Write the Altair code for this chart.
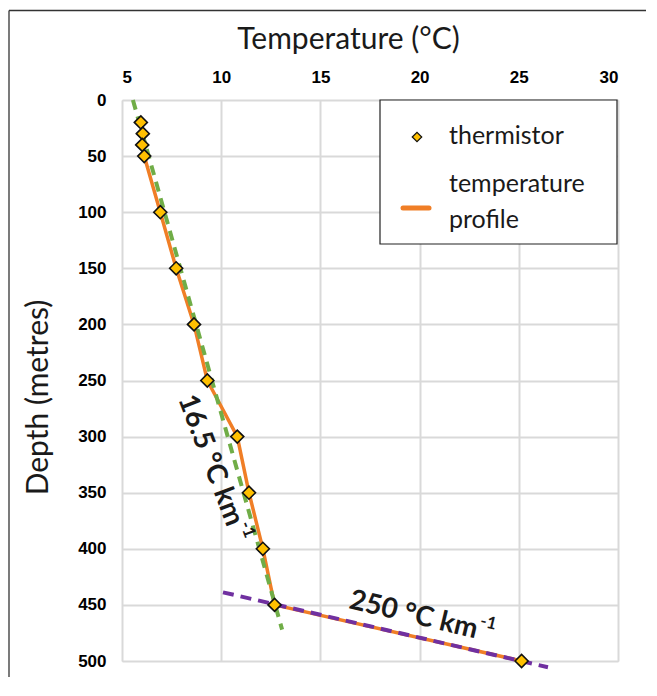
import altair as alt
import pandas as pd

# ---- data ----
depth = [20, 30, 40, 50, 100, 150, 200, 250, 300, 350, 400, 450, 500]
temp = [5.95, 6.05, 6.02, 6.12, 6.93, 7.73, 8.63, 9.30, 10.81, 11.40, 12.10, 12.69, 25.14]

green_temp = [5.55, 13.07]
green_depth = [0, 472]
purple_temp = [10.09, 26.47]
purple_depth = [438.8, 505.6]

x_ticks = [5, 10, 15, 20, 25, 30]
y_ticks = [0, 50, 100, 150, 200, 250, 300, 350, 400, 450, 500]

# annotation: main text ends (right-aligned) at (temp, depth); superscript follows
ann_text = ["16.5 °C km", "250 °C km"]
ann_sup = ["-1", "-1"]
ann_temp = [10.68, 22.90]
ann_depth = [378.5, 473.0]
ann_angle = [69, 13.5]

legend_labels = ["thermistor", "temperature\nprofile"]

TEXT_FONT = "Lato"
ORANGE = "#F07E26"
GOLD = "#FFC000"
GREEN = "#70AD47"
PURPLE = "#7030A0"

W, H = 496, 561
PAD = {"left": 114, "top": 92, "right": 28, "bottom": 16}

profile = pd.DataFrame({"temp": temp, "depth": depth})
green = pd.DataFrame({"temp": green_temp, "depth": green_depth})
purple = pd.DataFrame({"temp": purple_temp, "depth": purple_depth})
one = pd.DataFrame({"a": [0]})

xscale = alt.Scale(domain=[5, 30], nice=False, zero=False)
yscale = alt.Scale(domain=[0, 500], reverse=True, nice=False, zero=False)

xenc = alt.X(
    "temp:Q",
    scale=xscale,
    axis=alt.Axis(
        orient="top", values=x_ticks, ticks=False, domain=False, grid=True,
        gridColor="#D9D9D9", gridWidth=2,
        labelFont="Liberation Sans", labelFontWeight="bold", labelFontSize=17,
        labelColor="#000000", labelPadding=14,
        title="Temperature (°C)", titleFont=TEXT_FONT, titleFontSize=30,
        titleFontWeight="normal", titleColor="#1a1a1a",
        titleX=226, titleY=-52, titleBaseline="alphabetic", titleAlign="center",
    ),
)
yenc = alt.Y(
    "depth:Q",
    scale=yscale,
    axis=alt.Axis(
        orient="left", values=y_ticks, ticks=False, domain=False, grid=True,
        gridColor="#D9D9D9", gridWidth=2,
        labelFont="Liberation Sans", labelFontWeight="bold", labelFontSize=17,
        labelColor="#000000", labelPadding=16,
        title="Depth (metres)", titleFont=TEXT_FONT, titleFontSize=30,
        titleFontWeight="normal", titleColor="#1a1a1a", titleAngle=270,
        titleX=-75, titleY=297, titleBaseline="alphabetic", titleAlign="center",
    ),
)

# outer frame (top and left edges only; the others fall outside the window)
frame_top = alt.Chart(one).mark_rule(color="#333333", strokeWidth=1.3).encode(
    x=alt.value(-113), x2=alt.value(W + PAD["right"]), y=alt.value(-89.5)
)
frame_left = alt.Chart(one).mark_rule(color="#333333", strokeWidth=1.3).encode(
    x=alt.value(-113), y=alt.value(-89.5), y2=alt.value(H + PAD["bottom"])
)

line = alt.Chart(profile).mark_line(color=ORANGE, strokeWidth=3.5).encode(
    x=xenc, y=yenc, order="depth:Q"
)
gline = alt.Chart(green).mark_line(color=GREEN, strokeWidth=4, strokeDash=[10, 7]).encode(
    x=alt.X("temp:Q", scale=xscale), y=alt.Y("depth:Q", scale=yscale), order="depth:Q"
)
pline = alt.Chart(purple).mark_line(color=PURPLE, strokeWidth=4, strokeDash=[11, 7]).encode(
    x=alt.X("temp:Q", scale=xscale), y=alt.Y("depth:Q", scale=yscale), order="depth:Q"
)
pts = alt.Chart(profile).mark_point(
    shape="diamond", filled=True, fill=GOLD, stroke="#111111", strokeWidth=1.6,
    size=170, opacity=1,
).encode(x=alt.X("temp:Q", scale=xscale), y=alt.Y("depth:Q", scale=yscale))

ann_layers = []
for i in range(2):
    d = pd.DataFrame({"t": [ann_temp[i]], "d": [ann_depth[i]], "s": [ann_text[i]], "u": [ann_sup[i]]})
    ann_layers.append(
        alt.Chart(d).mark_text(
            font=TEXT_FONT, fontSize=28, fontWeight="bold", color="#1a1a1a",
            angle=ann_angle[i], align="right", baseline="middle",
        ).encode(x=alt.X("t:Q", scale=xscale), y=alt.Y("d:Q", scale=yscale), text="s:N")
    )
    ann_layers.append(
        alt.Chart(d).mark_text(
            font=TEXT_FONT, fontSize=17, fontWeight="bold", color="#1a1a1a",
            angle=ann_angle[i], align="left", baseline="middle", dx=1, dy=-10,
        ).encode(x=alt.X("t:Q", scale=xscale), y=alt.Y("d:Q", scale=yscale), text="u:N")
    )

# ---- legend ----
lbox = alt.Chart(one).mark_rect(fill="white", stroke="#222222", strokeWidth=1.2).encode(
    x=alt.value(258), x2=alt.value(495), y=alt.value(0), y2=alt.value(144)
)
lsym = alt.Chart(one).mark_point(
    shape="diamond", filled=True, fill=GOLD, stroke="#111111", strokeWidth=1.2, size=90, opacity=1
).encode(x=alt.value(295), y=alt.value(37))
lline = alt.Chart(one).mark_rule(color=ORANGE, strokeWidth=5, strokeCap="round").encode(
    x=alt.value(281), x2=alt.value(307), y=alt.value(108)
)
ltxt1 = alt.Chart(one).mark_text(
    font=TEXT_FONT, fontSize=25, color="#1a1a1a", align="left", baseline="alphabetic",
    text=legend_labels[0],
).encode(x=alt.value(327), y=alt.value(44))
ltxt2 = alt.Chart(one).mark_text(
    font=TEXT_FONT, fontSize=25, color="#1a1a1a", align="left", baseline="alphabetic",
    lineBreak="\n", lineHeight=36, text=legend_labels[1],
).encode(x=alt.value(327), y=alt.value(92))

chart = alt.layer(
    frame_top, frame_left, line, gline, pline, pts, *ann_layers,
    lbox, lsym, lline, ltxt1, ltxt2
).properties(
    width=W, height=H,
    autosize=alt.AutoSizeParams(type="none"),
    padding=PAD,
).configure_view(stroke=None).configure(background="white")

chart.save("out.html", embed_options={"renderer": "svg", "actions": False})
